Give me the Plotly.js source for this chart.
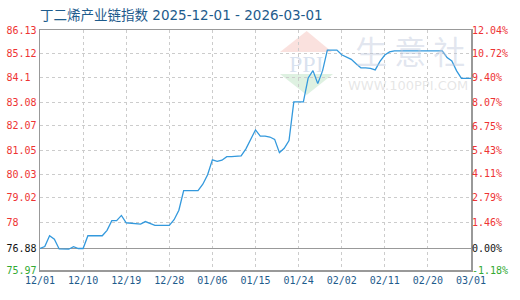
<!DOCTYPE html>
<html>
<head>
<meta charset="utf-8">
<script src="https://cdn.plot.ly/plotly-3.0.1.min.js"></script>
<style>html,body{margin:0;padding:0;background:#fff}#chart{width:520px;height:300px}</style>
</head>
<body>
<div id="chart"></div>
<script>
const titleText = "丁二烯产业链指数 2025-12-01 - 2026-03-01";
const startDate = "2025-12-01";
const indexValues = [
  76.88, 76.96, 77.42, 77.27, 76.86, 76.85, 76.85, 76.96, 76.88, 76.88,
  77.42, 77.42, 77.42, 77.42, 77.65, 78.06, 78.06, 78.28, 77.97, 77.95,
  77.93, 77.91, 78.02, 77.93, 77.86, 77.86, 77.86, 77.86, 78.10, 78.50,
  79.33, 79.33, 79.33, 79.33, 79.60, 80.00, 80.63, 80.57, 80.62, 80.77,
  80.77, 80.77, 80.80, 81.10, 81.50, 81.90, 81.64, 81.64, 81.60, 81.50,
  80.94, 81.12, 81.45, 83.09, 83.09, 83.09, 84.10, 84.41, 83.86, 84.40,
  85.28, 85.28, 85.28, 85.08, 84.97, 84.89, 84.70, 84.53, 84.53, 84.51,
  84.44, 84.80, 85.07, 85.20, 85.25, 85.25, 85.25, 85.25, 85.25, 85.25,
  85.25, 85.25, 85.25, 85.25, 85.25, 84.96, 84.82, 84.40, 84.08, 84.08,
  84.08
];
const baseValue = 76.88;
const leftTicks = [75.97, 76.88, 78, 79.02, 80.03, 81.05, 82.07, 83.08, 84.1, 85.12, 86.13];
const leftTickLabels = ["75.97", "76.88", "78", "79.02", "80.03", "81.05", "82.07", "83.08", "84.1", "85.12", "86.13"];
const rightTicks = [-1.18, 0, 1.46, 2.79, 4.11, 5.43, 6.75, 8.07, 9.40, 10.72, 12.04];
const rightTickLabels = ["-1.18%", "0.00%", "1.46%", "2.79%", "4.11%", "5.43%", "6.75%", "8.07%", "9.40%", "10.72%", "12.04%"];
const xTickDates = ["2025-12-01", "2025-12-10", "2025-12-19", "2025-12-28", "2026-01-06", "2026-01-15", "2026-01-24", "2026-02-02", "2026-02-11", "2026-02-20", "2026-03-01"];
const xTickLabels = ["12/01", "12/10", "12/19", "12/28", "01/06", "01/15", "01/24", "02/02", "02/11", "02/20", "03/01"];

const RED = "#ee3333", GREEN = "#33aa33", BLACK = "#111111";
function colorFor(i) { return i === 0 ? GREEN : (i === 1 ? BLACK : RED); }

// consecutive daily dates
const dates = [];
(function () {
  const d0 = new Date(startDate + "T00:00:00Z");
  for (let i = 0; i < indexValues.length; i++) {
    const d = new Date(d0.getTime() + i * 86400000);
    dates.push(d.toISOString().slice(0, 10));
  }
})();
const pctValues = indexValues.map(v => (v / baseValue - 1) * 100);

const leftText = leftTickLabels.map((t, i) => {
  let s = t; while (s.length < 5) s += "\u00A0";
  return '<span style="fill:' + colorFor(i) + '">' + s + '</span>';
});
const rightText = rightTickLabels.map((t, i) => '<span style="fill:' + colorFor(i) + '">' + t + '</span>');

const tickFont = {family: "DejaVu Sans Mono, monospace", size: 10, color: RED};

const traces = [
  {x: dates, y: indexValues, type: "scatter", mode: "lines",
   line: {color: "#3399dd", width: 1.3}, hoverinfo: "skip", yaxis: "y"},
  {x: dates, y: pctValues, type: "scatter", mode: "lines",
   line: {color: "rgba(0,0,0,0)", width: 0}, hoverinfo: "skip", yaxis: "y2", showlegend: false}
];

function px2x(p) { return (p - 40) / 431; }
function px2y(p) { return (270 - p) / 240; }

const layout = {
  width: 520, height: 300,
  margin: {l: 40, r: 49, t: 30, b: 30, pad: 0},
  paper_bgcolor: "#ffffff", plot_bgcolor: "#ffffff",
  showlegend: false,
  title: {text: titleText, x: 40 / 520, xanchor: "left", xref: "container",
          y: 1 - 15 / 300, yanchor: "middle", yref: "container",
          font: {family: "DejaVu Sans, Noto Sans CJK SC, sans-serif", size: 13.5, color: "#1e5b8c"}},
  xaxis: {type: "date", range: [xTickDates[0], xTickDates[xTickDates.length - 1]],
          tickmode: "array", tickvals: xTickDates, ticktext: xTickLabels,
          tickfont: {family: "DejaVu Sans Mono, monospace", size: 10, color: "#1e5b8c"},
          showgrid: true, gridcolor: "#cccccc", griddash: "3px,3px", gridwidth: 1,
          showline: true, linecolor: "#999999", linewidth: 1.5, mirror: true,
          ticks: "", zeroline: false, fixedrange: true},
  yaxis: {range: [leftTicks[0], leftTicks[leftTicks.length - 1]],
          tickmode: "array", tickvals: leftTicks, ticktext: leftText,
          tickfont: tickFont,
          showgrid: true, gridcolor: "#cccccc", griddash: "3px,3px", gridwidth: 1,
          showline: true, linecolor: "#999999", linewidth: 1.5, mirror: true,
          ticks: "", zeroline: false, fixedrange: true},
  yaxis2: {overlaying: "y", side: "right",
           range: [rightTicks[0], rightTicks[rightTicks.length - 1]],
           tickmode: "array", tickvals: rightTicks, ticktext: rightText,
           tickfont: tickFont, showgrid: false,
           zeroline: true, zerolinecolor: "#999999", zerolinewidth: 1.5,
           showline: false, ticks: "", fixedrange: true},
  shapes: [
    {type: "path", xref: "paper", yref: "paper", layer: "below",
     path: "M " + px2x(306.7) + " " + px2y(31) + " L " + px2x(280) + " " + px2y(52) + " L " + px2x(332) + " " + px2y(52) + " Z",
     fillcolor: "rgba(240,170,160,0.35)", line: {width: 0}},
    {type: "path", xref: "paper", yref: "paper", layer: "below",
     path: "M " + px2x(280) + " " + px2y(74) + " L " + px2x(333) + " " + px2y(74) + " L " + px2x(306.7) + " " + px2y(95) + " Z",
     fillcolor: "rgba(160,215,170,0.35)", line: {width: 0}}
  ],
  annotations: [
    {text: "PPI", xref: "paper", yref: "paper", x: px2x(306), y: px2y(64), showarrow: false,
     xanchor: "center", yanchor: "middle",
     font: {family: "Liberation Serif, serif", size: 24, color: "rgba(170,190,220,0.45)"}},
    {text: "生 意 社", xref: "paper", yref: "paper", x: px2x(410), y: px2y(50), showarrow: false,
     xanchor: "center", yanchor: "middle",
     font: {family: "Noto Sans CJK SC, sans-serif", size: 32, color: "rgba(190,200,220,0.45)"}},
    {text: "WWW.100PPI.COM", xref: "paper", yref: "paper", x: px2x(408), y: px2y(85), showarrow: false,
     xanchor: "center", yanchor: "middle",
     font: {family: "DejaVu Sans, sans-serif", size: 13, color: "rgba(200,200,200,0.45)"}}
  ]
};

Plotly.newPlot("chart", traces, layout, {displayModeBar: false, staticPlot: true});
</script>
</body>
</html>
